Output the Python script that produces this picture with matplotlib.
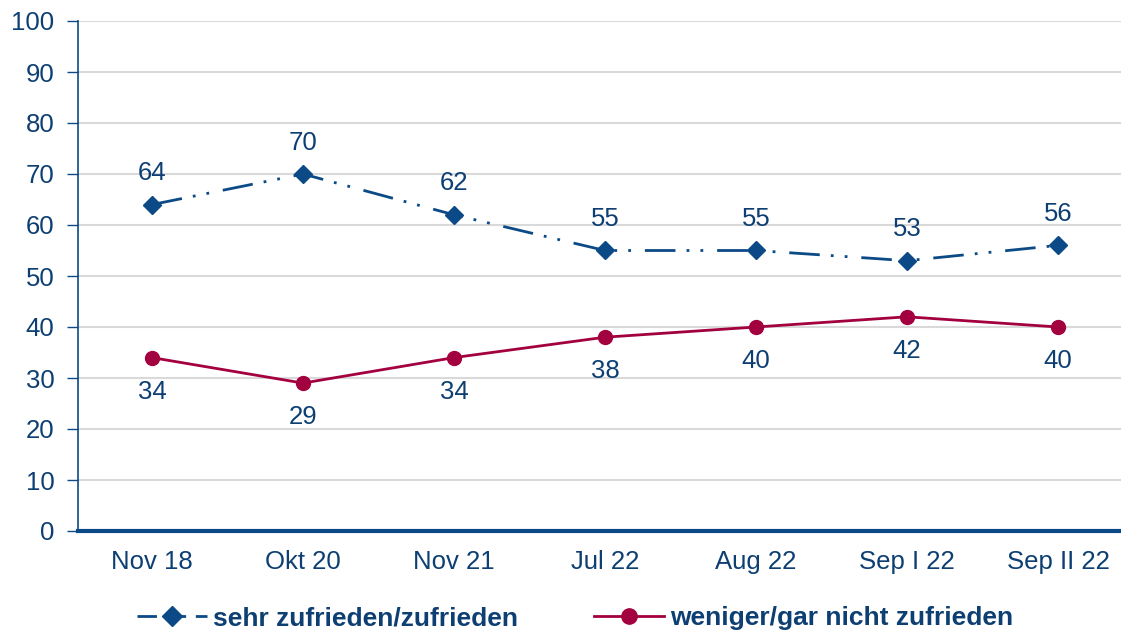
import matplotlib.pyplot as plt
from matplotlib.lines import Line2D

plt.rcParams['font.family'] = ['Liberation Sans', 'DejaVu Sans']

categories = ["Nov 18", "Okt 20", "Nov 21", "Jul 22", "Aug 22", "Sep I 22", "Sep II 22"]
zufrieden = [64, 70, 62, 55, 55, 53, 56]
nicht_zufrieden = [34, 29, 34, 38, 40, 42, 40]
label_zufrieden = "sehr zufrieden/zufrieden"
label_nicht = "weniger/gar nicht zufrieden"

blue = "#0b4a86"
red = "#a3003f"
text_col = "#0d3f73"
fs = 18.5

fig = plt.figure(figsize=(11.21, 6.35), dpi=100)
ax = fig.add_axes([78/1121, 104/635, 1 - 78/1121, 510/635])

x = list(range(len(categories)))
ax.plot(x, zufrieden, color=blue, lw=2, dashes=(11, 4, 1, 4, 1, 5), dash_capstyle="butt",
        marker="D", markersize=9, zorder=3)
ax.plot(x, nicht_zufrieden, color=red, lw=2, marker="o", markersize=10, zorder=3)

for i, v in enumerate(zufrieden):
    ax.annotate(str(v), (i, v), xytext=(0, 14), textcoords="offset points",
                ha="center", va="bottom", fontsize=fs, color=text_col)
for i, v in enumerate(nicht_zufrieden):
    ax.annotate(str(v), (i, v), xytext=(0, -16), textcoords="offset points",
                ha="center", va="top", fontsize=fs, color=text_col)

ax.set_xlim(-0.49, 6.417)
ax.set_ylim(0, 100)
ax.set_yticks(range(0, 101, 10))
ax.set_xticks(x)
ax.set_xticklabels(categories)
ax.tick_params(axis="y", colors=blue, labelcolor=text_col, labelsize=fs, length=8, width=1, direction="out", pad=9)
ax.tick_params(axis="x", length=0, labelcolor=text_col, labelsize=fs, pad=14)
ax.grid(axis="y", color="#d9d9d9", lw=1.5)
ax.set_axisbelow(True)
for s in ["top", "right"]:
    ax.spines[s].set_visible(False)
ax.spines["left"].set_color(blue)
ax.spines["left"].set_linewidth(1.2)
ax.spines["bottom"].set_color(blue)
ax.spines["bottom"].set_linewidth(3)

handles = [
    Line2D([], [], color=blue, lw=2, dashes=(7, 3.5), marker="D", markersize=10),
    Line2D([], [], color=red, lw=2, marker="o", markersize=11),
]
leg = fig.legend(handles, [label_zufrieden, label_nicht], loc="center", bbox_to_anchor=(0.513, 0.026),
                 ncol=2, frameon=False, handlelength=2.65, handletextpad=0.25, columnspacing=2.85,
                 prop={"weight": "bold", "size": 19})
for t in leg.get_texts():
    t.set_color(text_col)

fig.savefig("out.png", dpi=100)
